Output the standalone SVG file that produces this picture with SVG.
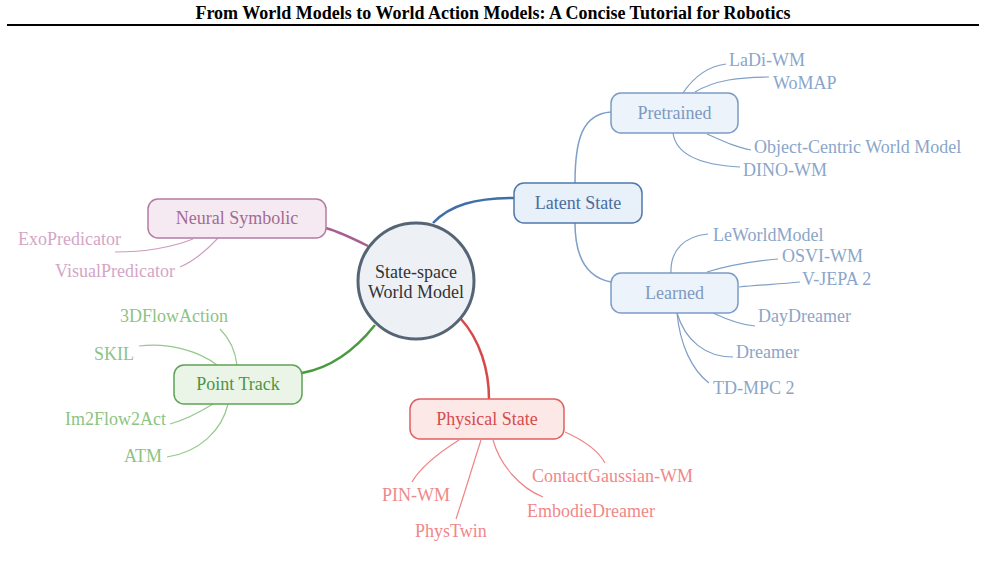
<svg xmlns="http://www.w3.org/2000/svg" width="985" height="580" viewBox="0 0 985 580">
<style>
text{font-family:"Liberation Serif","Times New Roman",serif;font-size:18px}
.title{font-weight:bold;font-size:18px;fill:#000}
.c{text-anchor:middle}
.e{text-anchor:end}
.lf{fill:none;stroke-width:1.2}
.main{fill:none;stroke-width:2.5}
.sub{fill:none;stroke-width:1.5}
.blue .lf,.blue .sub{stroke:#7f9fc7}
.blue .t{fill:#8aa6ca}
.purple .lf{stroke:#cf9bbf}
.purple .t{fill:#d3a6c6}
.green .lf{stroke:#94c98b}
.green .t{fill:#8cc483}
.red .lf{stroke:#ee8585}
.red .t{fill:#ef8888}
</style>
<rect width="985" height="580" fill="#fff"/>
<text class="title c" x="493" y="19">From World Models to World Action Models: A Concise Tutorial for Robotics</text>
<line x1="7" y1="25" x2="979" y2="25" stroke="#000" stroke-width="2"/>

<g id="connectors">
  <path class="main" stroke="#3f6fa8" d="M433,223 C450,205 475,198 514,198"/>
  <path class="main" stroke="#a6608f" d="M368,246 C352,238 340,232 326,228"/>
  <path class="main" stroke="#4a9a40" d="M375,325 C355,350 330,368 302,373"/>
  <path class="main" stroke="#d94848" d="M461,319 C480,340 489,370 489,399"/>
  <g class="blue">
    <path class="sub" d="M575,183 C575,140 582,114 611,112"/>
    <path class="sub" d="M575,223 C575,262 590,278 611,282"/>
    <path class="lf" d="M683,93 C695,75 710,66 726,64"/>
    <path class="lf" d="M695,92 C715,80 740,77 769,77"/>
    <path class="lf" d="M707,134 C725,142 738,148 751,150"/>
    <path class="lf" d="M673,133 C676,155 700,165 740,167"/>
    <path class="lf" d="M671,273 C670,250 685,236 708,234"/>
    <path class="lf" d="M707,272 C730,265 755,261 778,259"/>
    <path class="lf" d="M739,287 C760,285 780,284 800,282"/>
    <path class="lf" d="M713,313 C728,320 742,325 755,326"/>
    <path class="lf" d="M677,313 C685,340 705,357 733,357"/>
    <path class="lf" d="M677,313 C680,345 692,370 709,383"/>
  </g>
  <g class="purple">
    <path class="lf" d="M193,239 C170,248 140,252 115,252"/>
    <path class="lf" d="M218,238 C205,252 192,262 180,267"/>
  </g>
  <g class="green">
    <path class="lf" d="M237,365 C235,348 228,337 220,329"/>
    <path class="lf" d="M217,365 C200,352 170,342 139,346"/>
    <path class="lf" d="M213,404 C200,412 185,420 170,424"/>
    <path class="lf" d="M228,404 C222,430 200,452 167,457"/>
  </g>
  <g class="red">
    <path class="lf" d="M565,432 C583,440 598,450 605,463"/>
    <path class="lf" d="M459,440 C440,452 420,468 412,482"/>
    <path class="lf" d="M493,440 C500,465 520,488 543,497"/>
    <path class="lf" d="M481,440 C472,468 464,495 456,519"/>
  </g>
</g>

<g id="root">
  <circle cx="416" cy="281" r="58" fill="#edf1f6" stroke="#556575" stroke-width="3"/>
  <text class="c" x="416" y="278" fill="#333">State-space</text>
  <text class="c" x="416" y="298" fill="#333">World Model</text>
</g>

<g id="latent-state">
  <rect x="514" y="183" width="128" height="40" rx="10" fill="#e8f0f9" stroke="#4f78ac" stroke-width="1.5"/>
  <text class="c" x="578" y="209" fill="#4a6e9c">Latent State</text>
</g>
<g id="pretrained">
  <rect x="611" y="93" width="127" height="40" rx="10" fill="#edf3fa" stroke="#7a9cc6" stroke-width="1.5"/>
  <text class="c" x="674.5" y="119" fill="#7d9ac0">Pretrained</text>
</g>
<g id="learned">
  <rect x="611" y="273" width="127" height="40" rx="10" fill="#edf3fa" stroke="#7a9cc6" stroke-width="1.5"/>
  <text class="c" x="674.5" y="299" fill="#7d9ac0">Learned</text>
</g>
<g class="blue" id="blue-leaves">
  <g id="ladi-wm"><text class="t" x="729" y="66">LaDi-WM</text></g>
  <g id="womap"><text class="t" x="773" y="89">WoMAP</text></g>
  <g id="ocwm"><text class="t" x="754" y="153">Object-Centric World Model</text></g>
  <g id="dino-wm"><text class="t" x="743" y="176">DINO-WM</text></g>
  <g id="leworldmodel"><text class="t" x="713" y="241">LeWorldModel</text></g>
  <g id="osvi-wm"><text class="t" x="782" y="262">OSVI-WM</text></g>
  <g id="vjepa2"><text class="t" x="802" y="285">V-JEPA 2</text></g>
  <g id="daydreamer"><text class="t" x="758" y="322">DayDreamer</text></g>
  <g id="dreamer"><text class="t" x="736" y="358">Dreamer</text></g>
  <g id="tdmpc2"><text class="t" x="713" y="394">TD-MPC 2</text></g>
</g>

<g id="neural-symbolic">
  <rect x="148" y="199" width="178" height="39" rx="10" fill="#f5eaf2" stroke="#b57ba5" stroke-width="1.5"/>
  <text class="c" x="237" y="224" fill="#a46a93">Neural Symbolic</text>
</g>
<g class="purple">
  <g id="exopredicator"><text class="t e" x="121" y="245">ExoPredicator</text></g>
  <g id="visualpredicator"><text class="t e" x="175" y="277">VisualPredicator</text></g>
</g>

<g id="point-track">
  <rect x="174" y="365" width="128" height="39" rx="10" fill="#eaf5e8" stroke="#5fa257" stroke-width="1.5"/>
  <text class="c" x="238" y="390" fill="#4d9444">Point Track</text>
</g>
<g class="green">
  <g id="3dflowaction"><text class="t e" x="228" y="322">3DFlowAction</text></g>
  <g id="skil"><text class="t e" x="134" y="360">SKIL</text></g>
  <g id="im2flow2act"><text class="t e" x="166" y="425">Im2Flow2Act</text></g>
  <g id="atm"><text class="t e" x="162" y="462">ATM</text></g>
</g>

<g id="physical-state">
  <rect x="410" y="399" width="154" height="40" rx="10" fill="#fde8e8" stroke="#e06060" stroke-width="1.5"/>
  <text class="c" x="487" y="425" fill="#d64c4c">Physical State</text>
</g>
<g class="red">
  <g id="contactgaussian"><text class="t" x="532" y="482">ContactGaussian-WM</text></g>
  <g id="pin-wm"><text class="t" x="382" y="501">PIN-WM</text></g>
  <g id="embodiedreamer"><text class="t" x="527" y="517">EmbodieDreamer</text></g>
  <g id="phystwin"><text class="t" x="415" y="537">PhysTwin</text></g>
</g>
</svg>
